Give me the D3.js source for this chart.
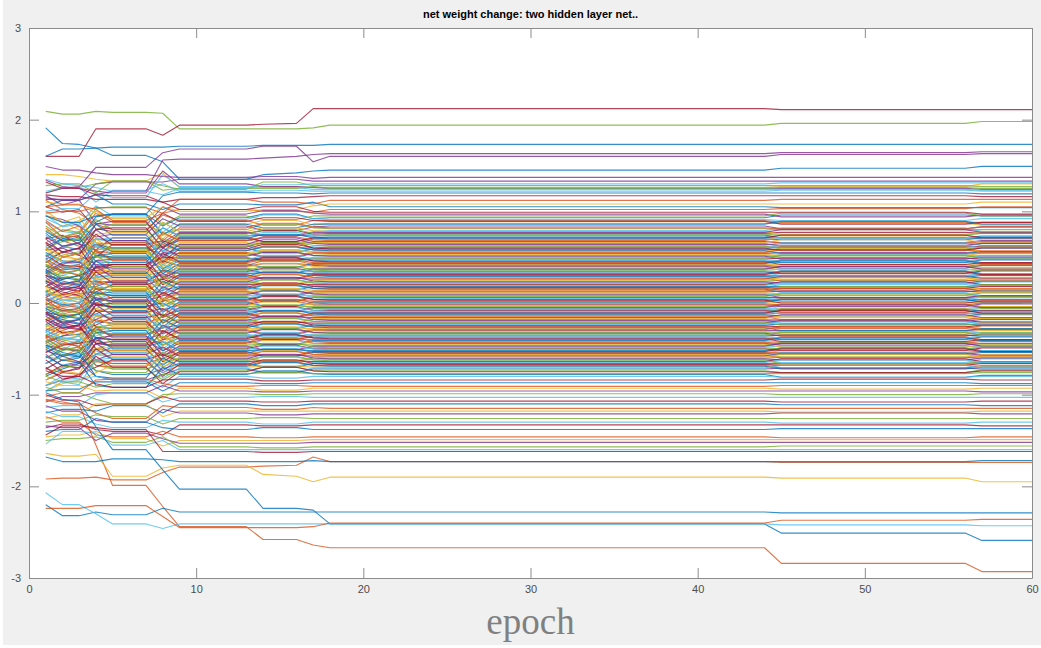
<!DOCTYPE html>
<html>
<head>
<meta charset="utf-8">
<script src="https://cdn.jsdelivr.net/npm/d3@7"></script>
<style>
  html, body { margin: 0; padding: 0; background: #ffffff; }
  svg { display: block; }
</style>
</head>
<body>
<div id="chart"></div>
<script>
// epochs at which the weights were sampled (values are held between them)
const epochs = [1, 2, 3, 4, 5, 7, 8, 9, 13, 14, 16, 17, 18, 44, 45, 56, 57, 60];

const xTicks = [0, 10, 20, 30, 40, 50, 60];
const yTicks = [-3, -2, -1, 0, 1, 2, 3];

// MATLAB default line colour order
const colorOrder = ['#0072BD', '#D95319', '#EDB120', '#7E2F8E', '#77AC30', '#4DBEEE', '#A2142F'];

// weights that stay in the dense band (first layer)
const denseSeries = [
  [.62,.70,.74,.88,.97,.97,.84,.93,.93,.97,.97,.92,.93,.93,.96,.96,.95,.95],
  [1.12,1.02,.98,.86,.80,.80,.96,.90,.90,.85,.85,.90,.90,.90,.88,.88,.88,.88],
  [.78,.84,.90,1.00,.92,.92,.70,.86,.86,.90,.90,.85,.87,.87,.87,.87,.85,.85],
  [.95,.91,.84,.72,.75,.75,.92,.84,.84,.79,.79,.83,.84,.84,.81,.81,.83,.83],
  [.52,.60,.66,.80,.86,.86,.76,.80,.80,.86,.86,.82,.81,.81,.80,.80,.80,.80],
  [.88,.78,.76,.62,.66,.66,.88,.78,.78,.74,.74,.78,.79,.79,.82,.82,.78,.78],
  [.70,.74,.64,.58,.71,.71,.60,.76,.76,.79,.79,.75,.76,.76,.77,.77,.76,.76],
  [.48,.55,.60,.70,.68,.68,.82,.73,.73,.74,.74,.73,.74,.74,.71,.71,.73,.73],
  [.82,.68,.62,.54,.60,.60,.66,.72,.72,.67,.67,.71,.72,.72,.71,.71,.71,.71],
  [.96,.88,.80,.66,.58,.58,.75,.70,.70,.64,.64,.69,.69,.69,.72,.72,.69,.69],
  [.36,.50,.54,.64,.56,.56,.62,.68,.68,.71,.71,.67,.67,.67,.66,.66,.68,.68],
  [.60,.67,.70,.52,.50,.50,.48,.64,.64,.65,.65,.66,.65,.65,.62,.62,.65,.65],
  [.74,.62,.58,.70,.66,.66,.57,.63,.63,.58,.58,.62,.63,.63,.66,.66,.63,.63],
  [.32,.42,.48,.50,.64,.64,.68,.61,.61,.66,.66,.60,.61,.61,.61,.61,.62,.62],
  [.55,.46,.44,.64,.60,.60,.52,.60,.60,.55,.55,.59,.60,.60,.57,.57,.60,.60],
  [.66,.72,.73,.56,.47,.47,.64,.57,.57,.62,.62,.58,.58,.58,.58,.58,.57,.57],
  [.28,.36,.40,.46,.55,.55,.44,.55,.55,.57,.57,.56,.56,.56,.59,.59,.56,.56],
  [.58,.60,.52,.42,.42,.42,.55,.54,.54,.50,.50,.54,.54,.54,.55,.55,.54,.54],
  [.44,.52,.56,.61,.57,.57,.42,.52,.52,.56,.56,.52,.52,.52,.50,.50,.52,.52],
  [.22,.30,.36,.40,.48,.48,.58,.50,.50,.46,.46,.50,.50,.50,.53,.53,.50,.50],
  [.52,.41,.40,.35,.42,.42,.50,.49,.49,.47,.47,.48,.48,.48,.49,.49,.48,.48],
  [.40,.36,.38,.52,.50,.50,.37,.46,.46,.50,.50,.46,.46,.46,.44,.44,.47,.47],
  [.18,.26,.30,.34,.40,.40,.50,.44,.44,.47,.47,.44,.44,.44,.47,.47,.44,.44],
  [.58,.54,.46,.38,.33,.33,.36,.42,.42,.38,.38,.42,.42,.42,.42,.42,.43,.43],
  [.34,.44,.45,.30,.36,.36,.46,.40,.40,.43,.43,.41,.40,.40,.38,.38,.41,.41],
  [.12,.20,.26,.28,.30,.30,.34,.38,.38,.36,.36,.38,.38,.38,.40,.40,.39,.39],
  [.46,.38,.36,.25,.28,.28,.30,.36,.36,.32,.32,.36,.36,.36,.37,.37,.36,.36],
  [.30,.26,.30,.38,.42,.42,.28,.34,.34,.38,.38,.34,.34,.34,.32,.32,.35,.35],
  [.08,.16,.22,.24,.22,.22,.36,.32,.32,.33,.33,.32,.32,.32,.35,.35,.32,.32],
  [.42,.35,.30,.20,.24,.24,.26,.30,.30,.26,.26,.30,.30,.30,.30,.30,.31,.31],
  [.26,.20,.22,.34,.31,.31,.20,.28,.28,.32,.32,.28,.28,.28,.26,.26,.28,.28],
  [.02,.10,.16,.18,.24,.24,.32,.26,.26,.27,.27,.26,.26,.26,.29,.29,.27,.27],
  [.34,.30,.26,.15,.14,.14,.22,.24,.24,.20,.20,.24,.24,.24,.25,.25,.24,.24],
  [.18,.14,.20,.29,.30,.30,.16,.22,.22,.26,.26,.22,.22,.22,.20,.20,.23,.23],
  [-.02,.06,.10,.12,.20,.20,.26,.20,.20,.21,.21,.20,.20,.20,.23,.23,.20,.20],
  [.30,.24,.20,.10,.08,.08,.14,.18,.18,.14,.14,.18,.18,.18,.18,.18,.19,.19],
  [.10,.08,.14,.24,.18,.18,.10,.16,.16,.20,.20,.16,.16,.16,.14,.14,.16,.16],
  [-.08,.00,.04,.08,.16,.16,.22,.14,.14,.15,.15,.14,.14,.14,.17,.17,.15,.15],
  [.24,.18,.16,.04,.02,.02,.08,.12,.12,.08,.08,.12,.12,.12,.13,.13,.12,.12],
  [.14,.06,.06,.18,.13,.13,.04,.10,.10,.14,.14,.10,.10,.10,.08,.08,.11,.11],
  [-.14,-.06,-.02,.04,.10,.10,.16,.08,.08,.09,.09,.08,.08,.08,.11,.11,.08,.08],
  [.18,.12,.08,-.02,-.04,-.04,.02,.06,.06,.02,.02,.06,.06,.06,.06,.06,.07,.07],
  [.04,-.02,.00,.12,.08,.08,-.03,.04,.04,.08,.08,.04,.04,.04,.02,.02,.04,.04],
  [-.20,-.12,-.08,.00,.06,.06,.10,.02,.02,.03,.03,.02,.02,.02,.05,.05,.03,.03],
  [.12,.06,.04,-.08,-.10,-.10,-.03,.00,.00,-.04,-.04,.00,.00,.00,.01,.01,.00,.00],
  [-.04,-.08,-.06,.06,.02,.02,-.08,-.02,-.02,.02,.02,-.02,-.02,-.02,-.04,-.04,-.01,-.01],
  [-.26,-.18,-.12,-.06,.00,.00,.04,-.04,-.04,-.03,-.03,-.04,-.04,-.04,-.01,-.01,-.04,-.04],
  [.06,.00,-.04,-.14,-.16,-.16,-.09,-.06,-.06,-.10,-.10,-.06,-.06,-.06,-.06,-.06,-.05,-.05],
  [-.10,-.14,-.12,.00,-.05,-.05,-.14,-.08,-.08,-.04,-.04,-.08,-.08,-.08,-.10,-.10,-.08,-.08],
  [-.32,-.24,-.18,-.12,-.04,-.04,.00,-.10,-.10,-.09,-.09,-.10,-.10,-.10,-.07,-.07,-.09,-.09],
  [.00,-.06,-.10,-.20,-.22,-.22,-.15,-.12,-.12,-.16,-.16,-.12,-.12,-.12,-.11,-.11,-.12,-.12],
  [-.16,-.20,-.18,-.06,-.11,-.11,-.20,-.14,-.14,-.10,-.10,-.14,-.14,-.14,-.16,-.16,-.13,-.13],
  [-.38,-.30,-.24,-.18,-.10,-.10,-.06,-.16,-.16,-.15,-.15,-.16,-.16,-.16,-.13,-.13,-.16,-.16],
  [-.06,-.12,-.16,-.26,-.28,-.28,-.21,-.18,-.18,-.22,-.22,-.18,-.18,-.18,-.18,-.18,-.17,-.17],
  [-.22,-.26,-.24,-.12,-.17,-.17,-.26,-.20,-.20,-.16,-.16,-.20,-.20,-.20,-.22,-.22,-.20,-.20],
  [-.44,-.36,-.30,-.24,-.16,-.16,-.12,-.22,-.22,-.21,-.21,-.22,-.22,-.22,-.19,-.19,-.21,-.21],
  [-.12,-.18,-.22,-.32,-.34,-.34,-.27,-.24,-.24,-.28,-.28,-.24,-.24,-.24,-.23,-.23,-.24,-.24],
  [-.28,-.32,-.30,-.18,-.23,-.23,-.32,-.26,-.26,-.22,-.22,-.26,-.26,-.26,-.28,-.28,-.25,-.25],
  [-.50,-.42,-.36,-.30,-.22,-.22,-.18,-.28,-.28,-.27,-.27,-.28,-.28,-.28,-.25,-.25,-.28,-.28],
  [-.18,-.24,-.28,-.38,-.40,-.40,-.33,-.30,-.30,-.34,-.34,-.30,-.30,-.30,-.30,-.30,-.29,-.29],
  [-.34,-.40,-.44,-.30,-.27,-.27,-.38,-.32,-.32,-.28,-.28,-.32,-.32,-.32,-.34,-.34,-.32,-.32],
  [-.60,-.52,-.40,-.36,-.30,-.30,-.26,-.34,-.34,-.37,-.37,-.34,-.34,-.34,-.31,-.31,-.33,-.33],
  [-.10,-.22,-.26,-.44,-.46,-.46,-.40,-.36,-.36,-.40,-.40,-.36,-.36,-.36,-.35,-.35,-.36,-.36],
  [-.42,-.36,-.34,-.28,-.36,-.36,-.46,-.38,-.38,-.34,-.34,-.38,-.38,-.38,-.40,-.40,-.37,-.37],
  [-.66,-.58,-.50,-.42,-.34,-.34,-.30,-.40,-.40,-.39,-.39,-.40,-.40,-.40,-.37,-.37,-.40,-.40],
  [-.24,-.30,-.36,-.50,-.54,-.54,-.46,-.42,-.42,-.46,-.46,-.42,-.42,-.42,-.42,-.42,-.41,-.41],
  [-.46,-.50,-.52,-.38,-.40,-.40,-.52,-.44,-.44,-.40,-.40,-.44,-.44,-.44,-.46,-.46,-.44,-.44],
  [-.72,-.62,-.58,-.50,-.44,-.44,-.36,-.46,-.46,-.45,-.45,-.46,-.46,-.46,-.43,-.43,-.45,-.45],
  [-.30,-.38,-.40,-.56,-.60,-.60,-.54,-.48,-.48,-.52,-.52,-.48,-.48,-.48,-.47,-.47,-.48,-.48],
  [-.54,-.46,-.44,-.40,-.48,-.48,-.58,-.50,-.50,-.46,-.46,-.50,-.50,-.50,-.52,-.52,-.49,-.49],
  [-.80,-.72,-.66,-.56,-.48,-.48,-.42,-.52,-.52,-.51,-.51,-.52,-.52,-.52,-.49,-.49,-.52,-.52],
  [-.36,-.42,-.48,-.62,-.66,-.66,-.60,-.54,-.54,-.58,-.58,-.54,-.54,-.54,-.54,-.54,-.53,-.53],
  [-.58,-.62,-.64,-.50,-.52,-.52,-.64,-.56,-.56,-.52,-.52,-.56,-.56,-.56,-.59,-.59,-.56,-.56],
  [-.84,-.76,-.70,-.62,-.56,-.56,-.48,-.58,-.58,-.57,-.57,-.58,-.58,-.58,-.55,-.55,-.57,-.57],
  [-.40,-.48,-.52,-.68,-.72,-.72,-.66,-.60,-.60,-.64,-.64,-.60,-.60,-.60,-.59,-.59,-.60,-.60],
  [-.66,-.58,-.56,-.52,-.60,-.60,-.70,-.62,-.62,-.58,-.58,-.62,-.62,-.62,-.65,-.65,-.61,-.61],
  [-.90,-.84,-.78,-.70,-.62,-.62,-.56,-.64,-.64,-.63,-.63,-.64,-.64,-.64,-.61,-.61,-.64,-.64],
  [-.46,-.54,-.58,-.74,-.78,-.78,-.72,-.66,-.66,-.70,-.70,-.66,-.66,-.66,-.66,-.66,-.65,-.65],
  [-.72,-.76,-.78,-.64,-.66,-.66,-.76,-.68,-.68,-.64,-.64,-.68,-.68,-.68,-.71,-.71,-.68,-.68],
  [-.96,-.88,-.84,-.76,-.68,-.68,-.62,-.70,-.70,-.69,-.69,-.70,-.70,-.70,-.67,-.67,-.69,-.69],
  [-.52,-.58,-.64,-.80,-.84,-.84,-.78,-.72,-.72,-.76,-.76,-.72,-.72,-.72,-.71,-.71,-.72,-.72],
  [-.78,-.70,-.68,-.62,-.72,-.72,-.84,-.74,-.74,-.70,-.70,-.74,-.74,-.74,-.76,-.76,-.73,-.73]
];

// weights that stay in the dense band (second layer)
const denseSeries2 = [
  [1.17,1.07,1.12,.87,.85,.85,1.05,.97,.97,1.01,1.01,.98,.97,.97,.94,.94,.96,.96],
  [.70,.80,.77,1.03,1.05,1.05,.85,.95,.95,.91,.91,.95,.95,.95,.98,.98,.95,.95],
  [.96,.83,.86,1.06,.95,.95,.77,.91,.91,.96,.96,.92,.91,.91,.90,.90,.92,.92],
  [1.05,.99,1.02,.81,.78,.78,.98,.89,.89,.93,.93,.90,.89,.89,.86,.86,.88,.88],
  [.58,.70,.68,.94,.97,.97,.74,.86,.86,.82,.82,.86,.86,.86,.89,.89,.86,.86],
  [.88,.72,.76,.98,.88,.88,.68,.82,.82,.87,.87,.83,.82,.82,.81,.81,.83,.83],
  [1.00,.88,.94,.66,.64,.64,.88,.78,.78,.82,.82,.79,.78,.78,.75,.75,.77,.77],
  [.50,.62,.58,.86,.89,.89,.66,.77,.77,.73,.73,.77,.77,.77,.80,.80,.77,.77],
  [.80,.67,.70,.91,.80,.80,.60,.75,.75,.80,.80,.76,.75,.75,.74,.74,.76,.76],
  [.92,.84,.88,.62,.60,.60,.82,.73,.73,.77,.77,.74,.73,.73,.70,.70,.72,.72],
  [.44,.56,.52,.80,.82,.82,.60,.71,.71,.67,.67,.71,.71,.71,.74,.74,.71,.71],
  [.76,.62,.65,.86,.74,.74,.56,.70,.70,.75,.75,.71,.70,.70,.69,.69,.71,.71],
  [.90,.78,.84,.56,.55,.55,.77,.68,.68,.72,.72,.69,.68,.68,.65,.65,.67,.67],
  [.40,.50,.48,.75,.77,.77,.55,.66,.66,.62,.62,.66,.66,.66,.69,.69,.66,.66],
  [.70,.55,.60,.80,.68,.68,.50,.64,.64,.69,.69,.65,.64,.64,.63,.63,.65,.65],
  [.84,.72,.78,.50,.49,.49,.70,.62,.62,.66,.66,.63,.62,.62,.59,.59,.61,.61],
  [.33,.44,.42,.69,.71,.71,.49,.60,.60,.56,.56,.60,.60,.60,.63,.63,.60,.60],
  [.65,.50,.54,.75,.63,.63,.45,.59,.59,.64,.64,.60,.59,.59,.58,.58,.60,.60],
  [.78,.68,.72,.45,.44,.44,.66,.57,.57,.61,.61,.58,.57,.57,.54,.54,.56,.56],
  [.30,.40,.37,.64,.66,.66,.44,.55,.55,.51,.51,.55,.55,.55,.58,.58,.55,.55],
  [.58,.45,.48,.70,.58,.58,.40,.53,.53,.58,.58,.54,.53,.53,.52,.52,.54,.54],
  [.72,.62,.66,.40,.38,.38,.60,.51,.51,.55,.55,.52,.51,.51,.48,.48,.50,.50],
  [.24,.34,.31,.58,.60,.60,.38,.49,.49,.45,.45,.49,.49,.49,.52,.52,.49,.49],
  [.52,.39,.42,.64,.52,.52,.34,.47,.47,.52,.52,.48,.47,.47,.46,.46,.48,.48],
  [.66,.56,.60,.34,.32,.32,.54,.45,.45,.49,.49,.46,.45,.45,.42,.42,.44,.44],
  [.18,.28,.25,.52,.54,.54,.32,.43,.43,.39,.39,.43,.43,.43,.46,.46,.43,.43],
  [.46,.33,.36,.58,.46,.46,.28,.41,.41,.46,.46,.42,.41,.41,.40,.40,.42,.42],
  [.60,.50,.54,.28,.26,.26,.48,.39,.39,.43,.43,.40,.39,.39,.36,.36,.38,.38],
  [.12,.22,.19,.46,.48,.48,.26,.37,.37,.33,.33,.37,.37,.37,.40,.40,.37,.37],
  [.40,.27,.30,.52,.40,.40,.22,.35,.35,.40,.40,.36,.35,.35,.34,.34,.36,.36],
  [.54,.44,.48,.22,.20,.20,.42,.33,.33,.37,.37,.34,.33,.33,.30,.30,.32,.32],
  [.06,.16,.13,.40,.42,.42,.20,.31,.31,.27,.27,.31,.31,.31,.34,.34,.31,.31],
  [.34,.21,.24,.46,.34,.34,.16,.29,.29,.34,.34,.30,.29,.29,.28,.28,.30,.30],
  [.48,.38,.42,.16,.14,.14,.36,.27,.27,.31,.31,.28,.27,.27,.24,.24,.26,.26],
  [.00,.10,.07,.34,.36,.36,.14,.25,.25,.21,.21,.25,.25,.25,.28,.28,.25,.25],
  [.28,.15,.18,.40,.28,.28,.10,.23,.23,.28,.28,.24,.23,.23,.22,.22,.24,.24],
  [.42,.32,.36,.10,.08,.08,.30,.21,.21,.25,.25,.22,.21,.21,.18,.18,.20,.20],
  [-.06,.04,.01,.28,.30,.30,.08,.19,.19,.15,.15,.19,.19,.19,.22,.22,.19,.19],
  [.22,.09,.12,.34,.22,.22,.04,.17,.17,.22,.22,.18,.17,.17,.16,.16,.18,.18],
  [.36,.26,.30,.04,.02,.02,.24,.15,.15,.19,.19,.16,.15,.15,.12,.12,.14,.14],
  [-.12,-.02,-.05,.22,.24,.24,.02,.13,.13,.09,.09,.13,.13,.13,.16,.16,.13,.13],
  [.16,.03,.06,.28,.16,.16,-.02,.11,.11,.16,.16,.12,.11,.11,.10,.10,.12,.12],
  [.30,.20,.24,-.02,-.04,-.04,.18,.09,.09,.13,.13,.10,.09,.09,.06,.06,.08,.08],
  [-.18,-.08,-.11,.16,.18,.18,-.04,.07,.07,.03,.03,.07,.07,.07,.10,.10,.07,.07],
  [.10,-.03,.00,.22,.10,.10,-.08,.05,.05,.10,.10,.06,.05,.05,.04,.04,.06,.06],
  [.24,.14,.18,-.08,-.10,-.10,.12,.03,.03,.07,.07,.04,.03,.03,.00,.00,.02,.02],
  [-.24,-.14,-.17,.10,.12,.12,-.10,.01,.01,-.03,-.03,.01,.01,.01,.04,.04,.01,.01],
  [.04,-.09,-.06,.16,.04,.04,-.14,-.01,-.01,.04,.04,.00,-.01,-.01,-.02,-.02,.00,.00],
  [.18,.08,.12,-.14,-.16,-.16,.06,-.03,-.03,.01,.01,-.02,-.03,-.03,-.06,-.06,-.04,-.04],
  [-.30,-.20,-.23,.04,.06,.06,-.16,-.05,-.05,-.09,-.09,-.05,-.05,-.05,-.02,-.02,-.05,-.05],
  [-.02,-.15,-.12,.10,-.02,-.02,-.20,-.07,-.07,-.02,-.02,-.06,-.07,-.07,-.08,-.08,-.06,-.06],
  [.12,.02,.06,-.20,-.22,-.22,.00,-.09,-.09,-.05,-.05,-.08,-.09,-.09,-.12,-.12,-.10,-.10],
  [-.36,-.26,-.29,-.02,.00,.00,-.22,-.11,-.11,-.15,-.15,-.11,-.11,-.11,-.08,-.08,-.11,-.11],
  [-.08,-.21,-.18,.04,-.08,-.08,-.26,-.13,-.13,-.08,-.08,-.12,-.13,-.13,-.14,-.14,-.12,-.12],
  [.06,-.04,.00,-.26,-.28,-.28,-.06,-.15,-.15,-.11,-.11,-.14,-.15,-.15,-.18,-.18,-.16,-.16],
  [-.42,-.32,-.35,-.08,-.06,-.06,-.28,-.17,-.17,-.21,-.21,-.17,-.17,-.17,-.14,-.14,-.17,-.17],
  [-.14,-.27,-.24,-.02,-.14,-.14,-.32,-.19,-.19,-.14,-.14,-.18,-.19,-.19,-.20,-.20,-.18,-.18],
  [.00,-.10,-.06,-.32,-.34,-.34,-.12,-.21,-.21,-.17,-.17,-.20,-.21,-.21,-.24,-.24,-.22,-.22],
  [-.48,-.38,-.41,-.14,-.12,-.12,-.34,-.23,-.23,-.27,-.27,-.23,-.23,-.23,-.20,-.20,-.23,-.23],
  [-.20,-.33,-.30,-.08,-.20,-.20,-.38,-.25,-.25,-.20,-.20,-.24,-.25,-.25,-.26,-.26,-.24,-.24],
  [-.06,-.16,-.12,-.38,-.40,-.40,-.18,-.27,-.27,-.23,-.23,-.26,-.27,-.27,-.30,-.30,-.28,-.28],
  [-.54,-.44,-.47,-.20,-.18,-.18,-.40,-.29,-.29,-.33,-.33,-.29,-.29,-.29,-.26,-.26,-.29,-.29],
  [-.26,-.39,-.36,-.14,-.26,-.26,-.44,-.31,-.31,-.26,-.26,-.30,-.31,-.31,-.32,-.32,-.30,-.30],
  [-.12,-.22,-.18,-.44,-.46,-.46,-.24,-.33,-.33,-.29,-.29,-.32,-.33,-.33,-.36,-.36,-.34,-.34],
  [-.60,-.50,-.53,-.26,-.24,-.24,-.46,-.35,-.35,-.39,-.39,-.35,-.35,-.35,-.32,-.32,-.35,-.35],
  [-.32,-.45,-.42,-.20,-.32,-.32,-.50,-.37,-.37,-.32,-.32,-.36,-.37,-.37,-.38,-.38,-.36,-.36],
  [-.18,-.28,-.24,-.50,-.52,-.52,-.30,-.39,-.39,-.35,-.35,-.38,-.39,-.39,-.42,-.42,-.40,-.40],
  [-.66,-.56,-.59,-.32,-.30,-.30,-.52,-.41,-.41,-.45,-.45,-.41,-.41,-.41,-.38,-.38,-.41,-.41],
  [-.38,-.51,-.48,-.26,-.38,-.38,-.56,-.43,-.43,-.38,-.38,-.42,-.43,-.43,-.44,-.44,-.42,-.42],
  [-.24,-.34,-.30,-.56,-.58,-.58,-.36,-.45,-.45,-.41,-.41,-.44,-.45,-.45,-.48,-.48,-.46,-.46],
  [-.72,-.62,-.65,-.38,-.36,-.36,-.58,-.47,-.47,-.51,-.51,-.47,-.47,-.47,-.44,-.44,-.47,-.47],
  [-.44,-.57,-.54,-.32,-.44,-.44,-.62,-.49,-.49,-.44,-.44,-.48,-.49,-.49,-.50,-.50,-.48,-.48],
  [-.30,-.40,-.36,-.62,-.64,-.64,-.42,-.51,-.51,-.47,-.47,-.50,-.51,-.51,-.54,-.54,-.52,-.52],
  [-.78,-.68,-.71,-.44,-.42,-.42,-.64,-.53,-.53,-.57,-.57,-.53,-.53,-.53,-.50,-.50,-.53,-.53],
  [-.50,-.63,-.60,-.38,-.50,-.50,-.68,-.55,-.55,-.50,-.50,-.54,-.55,-.55,-.56,-.56,-.54,-.54],
  [-.36,-.46,-.42,-.68,-.70,-.70,-.48,-.57,-.57,-.53,-.53,-.56,-.57,-.57,-.60,-.60,-.58,-.58],
  [-.84,-.74,-.77,-.50,-.48,-.48,-.70,-.59,-.59,-.63,-.63,-.59,-.59,-.59,-.56,-.56,-.59,-.59],
  [-.56,-.69,-.66,-.44,-.56,-.56,-.74,-.61,-.61,-.56,-.56,-.60,-.61,-.61,-.62,-.62,-.60,-.60],
  [-.42,-.52,-.48,-.74,-.76,-.76,-.54,-.63,-.63,-.59,-.59,-.62,-.63,-.63,-.66,-.66,-.64,-.64],
  [-.90,-.80,-.83,-.56,-.54,-.54,-.76,-.65,-.65,-.69,-.69,-.65,-.65,-.65,-.62,-.62,-.65,-.65],
  [-.62,-.75,-.72,-.50,-.62,-.62,-.80,-.67,-.67,-.62,-.62,-.66,-.67,-.67,-.68,-.68,-.66,-.66],
  [-.48,-.58,-.54,-.80,-.82,-.82,-.60,-.69,-.69,-.65,-.65,-.68,-.69,-.69,-.72,-.72,-.70,-.70],
  [-.96,-.86,-.89,-.62,-.60,-.60,-.82,-.71,-.71,-.75,-.75,-.71,-.71,-.71,-.68,-.68,-.71,-.71],
  [-.70,-.83,-.80,-.58,-.70,-.70,-.88,-.75,-.75,-.70,-.70,-.74,-.75,-.75,-.76,-.76,-.74,-.74],
  [-.58,-.68,-.64,-.90,-.92,-.92,-.70,-.78,-.78,-.74,-.74,-.77,-.78,-.78,-.81,-.81,-.79,-.79]
];

// weights above the dense band
const upperSeries = [
  [1.40,1.40,1.38,1.35,1.33,1.33,1.42,1.26,1.26,1.27,1.27,1.26,1.26,1.26,1.27,1.27,1.30,1.30],
  [1.34,1.27,1.25,1.22,1.20,1.20,1.44,1.30,1.30,1.27,1.27,1.26,1.25,1.25,1.25,1.25,1.24,1.24],
  [1.28,1.30,1.30,1.20,1.33,1.33,1.23,1.25,1.25,1.25,1.25,1.27,1.25,1.25,1.26,1.26,1.25,1.25],
  [1.22,1.26,1.26,1.10,1.23,1.23,1.30,1.22,1.22,1.23,1.23,1.22,1.22,1.22,1.23,1.23,1.22,1.22],
  [1.18,1.16,1.16,1.13,1.13,1.13,1.10,1.13,1.13,1.15,1.15,1.16,1.17,1.17,1.17,1.17,1.16,1.16],
  [1.05,1.12,1.12,1.18,1.08,1.08,1.02,1.08,1.08,1.07,1.07,1.10,1.05,1.05,1.04,1.04,1.04,1.04],
  [.98,1.00,1.00,1.04,1.04,1.04,.98,1.02,1.02,1.00,1.00,.99,1.02,1.02,1.03,1.03,1.05,1.05],
  [1.10,1.08,1.08,.98,.93,.93,1.05,1.00,1.00,1.02,1.02,1.06,1.08,1.08,1.08,1.08,1.10,1.10],
  [1.13,1.13,1.13,1.30,1.32,1.32,1.32,1.35,1.35,1.35,1.35,1.33,1.33,1.33,1.33,1.33,1.33,1.33],
  [1.20,1.26,1.26,1.30,1.33,1.33,1.28,1.24,1.24,1.32,1.32,1.28,1.28,1.28,1.28,1.28,1.27,1.27],
  [1.00,1.03,1.03,1.20,1.15,1.15,1.40,1.27,1.27,1.26,1.26,1.24,1.24,1.24,1.24,1.24,1.23,1.23],
  [1.32,1.25,1.25,1.18,1.17,1.17,1.10,1.02,1.02,1.05,1.05,1.00,.99,.99,.99,.99,.97,.97],
  [.95,.88,.88,.95,.97,.97,1.17,1.21,1.21,1.20,1.20,1.19,1.20,1.20,1.20,1.20,1.19,1.19],
  [1.05,1.07,1.07,1.02,.90,.90,.98,1.13,1.13,1.10,1.10,1.08,1.12,1.12,1.13,1.13,1.13,1.13]
];

// weights below the dense band
const lowerSeries = [
  [-.80,-.86,-.86,-.92,-.88,-.88,-.78,-.77,-.77,-.76,-.76,-.77,-.77,-.77,-.77,-.77,-.76,-.76],
  [-.90,-.84,-.84,-.80,-.84,-.84,-.92,-.80,-.80,-.82,-.82,-.80,-.80,-.80,-.81,-.81,-.80,-.80],
  [-.74,-.80,-.80,-.88,-.92,-.92,-.84,-.83,-.83,-.85,-.85,-.84,-.84,-.84,-.83,-.83,-.84,-.84],
  [-.96,-.94,-.94,-.86,-.86,-.86,-.96,-.87,-.87,-.88,-.88,-.87,-.87,-.87,-.87,-.87,-.88,-.88],
  [-1.02,-.98,-.98,-.84,-.83,-.83,-.88,-.91,-.91,-.90,-.90,-.91,-.91,-.91,-.90,-.90,-.90,-.90],
  [-.86,-.90,-.90,-.96,-.95,-.95,-1.04,-.93,-.93,-.95,-.95,-.93,-.93,-.93,-.94,-.94,-.93,-.93],
  [-1.08,-1.02,-1.02,-.98,-.98,-.98,-.90,-.96,-.96,-.97,-.97,-.96,-.96,-.96,-.96,-.96,-.97,-.97],
  [-.92,-.98,-.98,-1.05,-1.10,-1.10,-1.00,-.99,-.99,-1.00,-1.00,-.99,-.99,-.99,-1.00,-1.00,-.99,-.99],
  [-1.14,-1.12,-1.12,-1.00,-.98,-.98,-1.08,-1.03,-1.03,-1.02,-1.02,-1.03,-1.03,-1.03,-1.03,-1.03,-1.03,-1.03],
  [-1.00,-1.06,-1.06,-1.12,-1.10,-1.10,-1.02,-1.07,-1.07,-1.08,-1.08,-1.07,-1.07,-1.07,-1.08,-1.08,-1.07,-1.07],
  [-1.20,-1.16,-1.16,-1.18,-1.12,-1.12,-1.20,-1.10,-1.10,-1.12,-1.12,-1.10,-1.10,-1.10,-1.11,-1.11,-1.12,-1.12],
  [-1.06,-1.10,-1.10,-1.20,-1.26,-1.26,-1.12,-1.14,-1.14,-1.16,-1.16,-1.14,-1.15,-1.15,-1.15,-1.15,-1.15,-1.15],
  [-1.26,-1.22,-1.22,-1.10,-1.10,-1.10,-1.24,-1.18,-1.18,-1.18,-1.18,-1.18,-1.18,-1.18,-1.19,-1.19,-1.18,-1.18],
  [-1.12,-1.18,-1.18,-1.28,-1.30,-1.30,-1.16,-1.20,-1.20,-1.22,-1.22,-1.21,-1.21,-1.21,-1.20,-1.20,-1.21,-1.21],
  [-1.30,-1.28,-1.28,-1.22,-1.24,-1.24,-1.32,-1.26,-1.26,-1.25,-1.25,-1.26,-1.26,-1.26,-1.26,-1.26,-1.26,-1.26],
  [-1.18,-1.24,-1.24,-1.32,-1.36,-1.36,-1.28,-1.30,-1.30,-1.32,-1.32,-1.30,-1.30,-1.30,-1.31,-1.31,-1.30,-1.30],
  [-1.36,-1.32,-1.32,-1.38,-1.40,-1.40,-1.44,-1.33,-1.33,-1.34,-1.34,-1.33,-1.33,-1.33,-1.33,-1.33,-1.34,-1.34],
  [-1.40,-1.38,-1.38,-1.26,-1.30,-1.30,-1.36,-1.38,-1.38,-1.36,-1.36,-1.38,-1.38,-1.38,-1.37,-1.37,-1.37,-1.37],
  [-1.24,-1.30,-1.30,-1.44,-1.46,-1.46,-1.40,-1.46,-1.46,-1.47,-1.47,-1.46,-1.46,-1.46,-1.47,-1.47,-1.46,-1.46],
  [-1.46,-1.44,-1.44,-1.40,-1.48,-1.48,-1.56,-1.50,-1.50,-1.50,-1.50,-1.49,-1.49,-1.49,-1.49,-1.49,-1.49,-1.49],
  [-1.34,-1.36,-1.36,-1.50,-1.42,-1.42,-1.48,-1.53,-1.53,-1.53,-1.53,-1.52,-1.52,-1.52,-1.52,-1.52,-1.52,-1.52],
  [-1.50,-1.48,-1.48,-1.46,-1.52,-1.52,-1.46,-1.57,-1.57,-1.58,-1.58,-1.57,-1.57,-1.57,-1.56,-1.56,-1.56,-1.56],
  [-1.54,-1.40,-1.40,-1.42,-1.55,-1.55,-1.50,-1.60,-1.60,-1.60,-1.60,-1.60,-1.60,-1.60,-1.60,-1.60,-1.60,-1.60],
  [-1.44,-1.34,-1.34,-1.36,-1.38,-1.38,-1.62,-1.62,-1.62,-1.63,-1.63,-1.62,-1.62,-1.62,-1.62,-1.62,-1.62,-1.62]
];

// the few weights that drift far from the rest
const outerSeries = [
  [2.09,2.06,2.06,2.09,2.08,2.08,2.07,1.90,1.90,1.90,1.90,1.91,1.94,1.94,1.96,1.96,1.98,1.98],
  [1.60,1.60,1.60,1.90,1.90,1.90,1.83,1.94,1.94,1.95,1.96,2.12,2.12,2.12,2.11,2.11,2.11,2.11],
  [1.91,1.74,1.73,1.69,1.61,1.61,1.54,1.35,1.35,1.40,1.42,1.44,1.45,1.45,1.47,1.47,1.49,1.49],
  [1.60,1.68,1.68,1.69,1.70,1.70,1.70,1.71,1.71,1.72,1.72,1.72,1.73,1.73,1.73,1.73,1.73,1.73],
  [1.49,1.45,1.45,1.42,1.40,1.40,1.38,1.37,1.37,1.38,1.38,1.36,1.37,1.37,1.37,1.37,1.37,1.37],
  [1.20,1.25,1.27,1.48,1.48,1.48,1.64,1.68,1.68,1.71,1.71,1.54,1.60,1.60,1.62,1.62,1.63,1.63],
  [1.15,1.12,1.12,1.18,1.22,1.22,1.56,1.57,1.57,1.58,1.60,1.62,1.63,1.63,1.64,1.64,1.65,1.65],
  [1.35,1.30,1.28,1.26,1.22,1.22,1.18,1.25,1.25,1.29,1.29,1.30,1.30,1.30,1.31,1.31,1.31,1.31],
  [-1.05,-1.08,-1.11,-1.55,-1.99,-1.99,-2.22,-2.44,-2.44,-2.58,-2.58,-2.64,-2.67,-2.67,-2.84,-2.84,-2.93,-2.93],
  [-1.92,-1.91,-1.91,-1.90,-1.93,-1.93,-1.85,-1.79,-1.79,-1.78,-1.77,-1.68,-1.73,-1.73,-1.74,-1.74,-1.74,-1.74],
  [-1.64,-1.67,-1.67,-1.65,-1.89,-1.89,-1.80,-1.77,-1.77,-1.87,-1.89,-1.95,-1.90,-1.90,-1.91,-1.91,-1.95,-1.95],
  [-1.68,-1.73,-1.73,-1.73,-1.70,-1.70,-1.71,-1.73,-1.73,-1.73,-1.73,-1.72,-1.73,-1.73,-1.73,-1.73,-1.72,-1.72],
  [-.98,-1.05,-1.08,-1.35,-1.60,-1.60,-1.82,-2.03,-2.03,-2.24,-2.24,-2.26,-2.41,-2.41,-2.51,-2.51,-2.59,-2.59],
  [-2.20,-2.32,-2.32,-2.28,-2.31,-2.31,-2.24,-2.28,-2.28,-2.28,-2.28,-2.28,-2.28,-2.28,-2.29,-2.29,-2.29,-2.29],
  [-2.07,-2.20,-2.20,-2.30,-2.41,-2.41,-2.46,-2.41,-2.41,-2.41,-2.41,-2.41,-2.41,-2.41,-2.42,-2.42,-2.43,-2.43],
  [-2.24,-2.24,-2.24,-2.21,-2.21,-2.21,-2.33,-2.45,-2.45,-2.45,-2.45,-2.44,-2.40,-2.40,-2.37,-2.37,-2.36,-2.36]
];
// which entry of the colour order each outer weight was drawn with
const outerColorIdx = [4, 6, 0, 0, 3, 3, 3, 5, 1, 1, 2, 0, 0, 0, 5, 1];

const W = 1041, H = 648;
const margin = { top: 28, right: 9, bottom: 70, left: 29 };
const width = W - margin.left - margin.right;
const height = H - margin.top - margin.bottom;

const svg = d3.select('#chart').append('svg')
  .attr('width', W)
  .attr('height', H);

// figure background
svg.append('rect')
  .attr('x', 3).attr('y', 0)
  .attr('width', W - 3).attr('height', H - 3)
  .attr('fill', '#f0f0f0');

const g = svg.append('g')
  .attr('transform', `translate(${margin.left},${margin.top})`);

g.append('rect')
  .attr('width', width)
  .attr('height', height)
  .attr('fill', '#ffffff');

const x = d3.scaleLinear().domain([0, 60]).range([0, width]);
const y = d3.scaleLinear().domain([-3, 3]).range([height, 0]);

const line = d3.line()
  .x((d, i) => x(epochs[i]))
  .y(d => y(d));

// all weights in plotting order, each with its colour from the order
const allSeries = [];
denseSeries.forEach((s, i) => {
  allSeries.push({ values: s, color: colorOrder[i % 7] });
  if (denseSeries2[i]) allSeries.push({ values: denseSeries2[i], color: colorOrder[(i + 3) % 7] });
});
denseSeries2.slice(denseSeries.length).forEach((s, i) => allSeries.push({ values: s, color: colorOrder[(i + 5) % 7] }));
upperSeries.forEach((s, i) => allSeries.push({ values: s, color: colorOrder[(i + 2) % 7] }));
lowerSeries.forEach((s, i) => allSeries.push({ values: s, color: colorOrder[(i + 4) % 7] }));
outerSeries.forEach((s, i) => allSeries.push({ values: s, color: colorOrder[outerColorIdx[i]] }));

g.append('g')
  .selectAll('path')
  .data(allSeries)
  .join('path')
    .attr('d', d => line(d.values))
    .attr('fill', 'none')
    .attr('stroke', d => d.color)
    .attr('stroke-width', 1.1)
    .attr('stroke-opacity', 0.8)
    .attr('stroke-linejoin', 'round');

// axes, MATLAB style: ticks point inward on all four sides
const axisColor = '#8c8c8c';
const styleAxis = sel => {
  sel.select('.domain').attr('stroke', axisColor);
  sel.selectAll('.tick line').attr('stroke', axisColor);
  sel.selectAll('.tick text')
    .attr('fill', '#4d4d4d')
    .style('font-family', 'Helvetica, Arial, "Liberation Sans", sans-serif')
    .style('font-size', '11px');
};
const plainNum = d => String(d);

g.append('g')
  .attr('transform', `translate(0,${height})`)
  .call(d3.axisBottom(x).tickValues(xTicks).tickFormat(plainNum).tickSize(-10).tickSizeOuter(0).tickPadding(7))
  .call(styleAxis);

g.append('g')
  .call(d3.axisLeft(y).tickValues(yTicks).tickFormat(plainNum).tickSize(-10).tickSizeOuter(0).tickPadding(8))
  .call(styleAxis);

g.append('g')
  .call(d3.axisTop(x).tickValues(xTicks).tickSize(-10).tickSizeOuter(0).tickFormat(''))
  .call(styleAxis);

g.append('g')
  .attr('transform', `translate(${width},0)`)
  .call(d3.axisRight(y).tickValues(yTicks).tickSize(-10).tickSizeOuter(0).tickFormat(''))
  .call(styleAxis);

// title
svg.append('text')
  .attr('x', margin.left + width / 2)
  .attr('y', 18)
  .attr('text-anchor', 'middle')
  .style('font-family', 'Helvetica, Arial, "Liberation Sans", sans-serif')
  .style('font-size', '11px')
  .style('font-weight', 'bold')
  .attr('fill', '#000')
  .text('net weight change: two hidden layer net..');

// x label
svg.append('text')
  .attr('x', margin.left + width / 2)
  .attr('y', 634)
  .attr('text-anchor', 'middle')
  .style('font-family', '"Liberation Serif", "Times New Roman", serif')
  .style('font-size', '37px')
  .attr('fill', '#808080')
  .text('epoch');
</script>
</body>
</html>
